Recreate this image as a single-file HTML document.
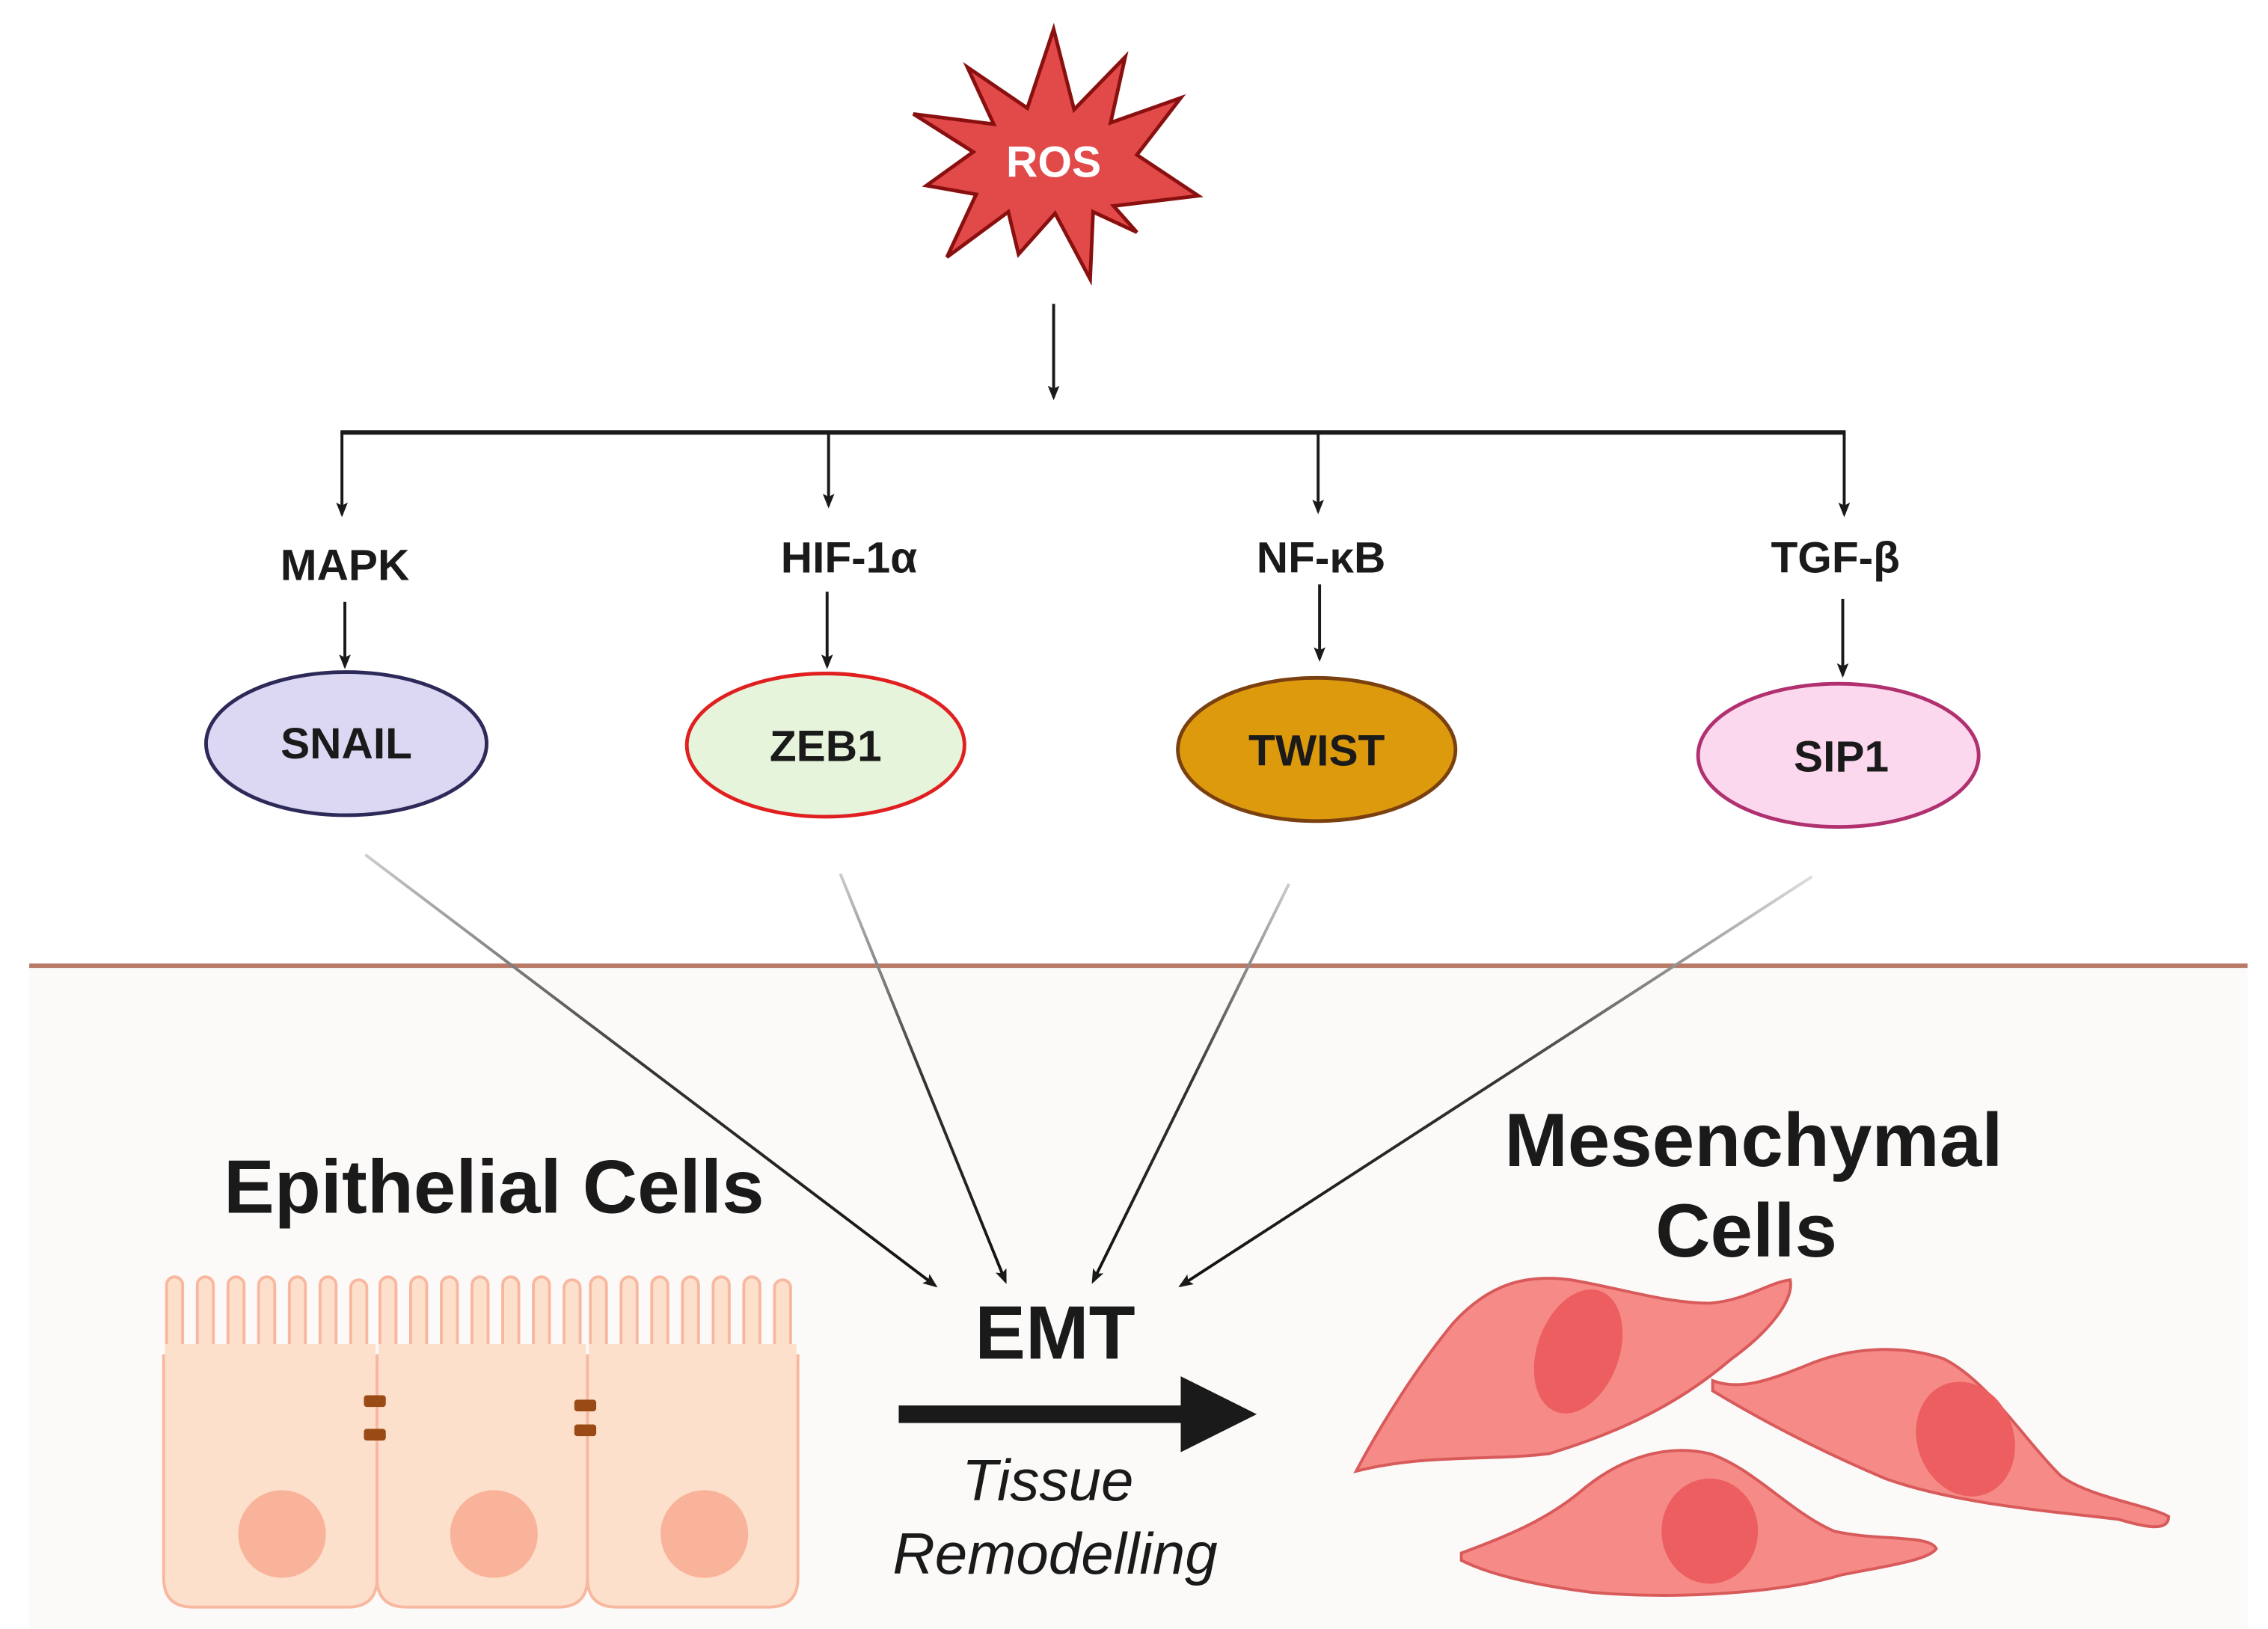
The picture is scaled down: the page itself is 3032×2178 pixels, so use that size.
<!DOCTYPE html>
<html><head><meta charset="utf-8"><style>
html,body{margin:0;padding:0;background:#fff;}
svg{display:block;}
text{font-family:"Liberation Sans",sans-serif;font-weight:bold;fill:#1a1a1a;}
</style></head><body>
<svg width="3032" height="2178" viewBox="0 0 1552 1115" preserveAspectRatio="none" xmlns="http://www.w3.org/2000/svg">
<defs>
<marker id="ah" markerWidth="10" markerHeight="10" refX="8" refY="5" orient="auto" markerUnits="userSpaceOnUse">
<path d="M0,1 L10,5 L0,9 L2,5 Z" fill="#1a1a1a"/></marker>
<linearGradient id="g1" x1="250" y1="585" x2="640" y2="880" gradientUnits="userSpaceOnUse"><stop offset="0" stop-color="#ccc"/><stop offset="0.5" stop-color="#333"/><stop offset="1" stop-color="#111"/></linearGradient>
<linearGradient id="g2" x1="575" y1="598" x2="688" y2="877" gradientUnits="userSpaceOnUse"><stop offset="0" stop-color="#ccc"/><stop offset="0.5" stop-color="#333"/><stop offset="1" stop-color="#111"/></linearGradient>
<linearGradient id="g3" x1="882" y1="605" x2="748" y2="877" gradientUnits="userSpaceOnUse"><stop offset="0" stop-color="#ccc"/><stop offset="0.5" stop-color="#333"/><stop offset="1" stop-color="#111"/></linearGradient>
<linearGradient id="g4" x1="1240" y1="600" x2="808" y2="880" gradientUnits="userSpaceOnUse"><stop offset="0" stop-color="#ddd"/><stop offset="0.5" stop-color="#333"/><stop offset="1" stop-color="#111"/></linearGradient>
</defs>
<rect x="0" y="0" width="1552" height="1115" fill="#fff"/>
<rect x="20" y="661" width="1518" height="454" fill="#fcfaf8"/>
<line x1="20" y1="661" x2="1538" y2="661" stroke="#b87a66" stroke-width="3"/>

<!-- ROS star -->
<polygon points="721,20 735,75 770,39 760,84 808,67 778,106 820,134 762,141 778,159 748,145 746,191 722,146 697,174 690,145 648,176 668,133 634,127 666,104 625,78 680,85 662,46 703,74" fill="#e24a4a" stroke="#8a1010" stroke-width="2.5" stroke-linejoin="miter"/>
<text x="721" y="121" font-size="30" text-anchor="middle" style="fill:#fff">ROS</text>

<g stroke="#1a1a1a" stroke-width="2" fill="none">
<line x1="721" y1="208" x2="721" y2="272" marker-end="url(#ah)"/>
<line x1="233" y1="296" x2="1263" y2="296" stroke-width="3"/>
<line x1="234" y1="296" x2="234" y2="352" marker-end="url(#ah)"/>
<line x1="567" y1="296" x2="567" y2="346" marker-end="url(#ah)"/>
<line x1="902" y1="296" x2="902" y2="350" marker-end="url(#ah)"/>
<line x1="1262" y1="296" x2="1262" y2="352" marker-end="url(#ah)"/>
<line x1="236" y1="412" x2="236" y2="456" marker-end="url(#ah)"/>
<line x1="566" y1="405" x2="566" y2="456" marker-end="url(#ah)"/>
<line x1="903" y1="400" x2="903" y2="451" marker-end="url(#ah)"/>
<line x1="1261" y1="410" x2="1261" y2="462" marker-end="url(#ah)"/>
</g>
<text x="236" y="397" font-size="30" text-anchor="middle">MAPK</text>
<text x="581" y="392" font-size="30" text-anchor="middle">HIF-1α</text>
<text x="904" y="392" font-size="30" text-anchor="middle">NF-κB</text>
<text x="1256" y="392" font-size="30" text-anchor="middle">TGF-β</text>

<ellipse cx="237" cy="509" rx="96" ry="49" fill="#dcd8f3" stroke="#2d2a5a" stroke-width="2.5"/>
<text x="237" y="519" font-size="30" text-anchor="middle">SNAIL</text>
<ellipse cx="565" cy="510" rx="95" ry="49" fill="#e6f4dc" stroke="#e02020" stroke-width="2.5"/>
<text x="565" y="521" font-size="30" text-anchor="middle">ZEB1</text>
<ellipse cx="901" cy="513" rx="95" ry="49" fill="#dd9a0c" stroke="#7a4010" stroke-width="2.5"/>
<text x="901" y="524" font-size="30" text-anchor="middle">TWIST</text>
<ellipse cx="1258" cy="517" rx="96" ry="49" fill="#fcd8ee" stroke="#b03070" stroke-width="2.5"/>
<text x="1260" y="528" font-size="30" text-anchor="middle">SIP1</text>

<line x1="250" y1="585" x2="640" y2="880" stroke="url(#g1)" stroke-width="2" marker-end="url(#ah)"/>
<line x1="575" y1="598" x2="688" y2="877" stroke="url(#g2)" stroke-width="2" marker-end="url(#ah)"/>
<line x1="882" y1="605" x2="748" y2="877" stroke="url(#g3)" stroke-width="2" marker-end="url(#ah)"/>
<line x1="1240" y1="600" x2="808" y2="880" stroke="url(#g4)" stroke-width="2" marker-end="url(#ah)"/>

<text x="722" y="930" font-size="52" text-anchor="middle">EMT</text>
<rect x="615" y="962" width="200" height="12" fill="#1a1a1a"/>
<polygon points="808,942 860,968 808,994" fill="#1a1a1a"/>
<text x="717" y="1027" font-size="40" text-anchor="middle" font-style="italic" style="font-weight:normal">Tissue</text>
<text x="722" y="1077" font-size="40" text-anchor="middle" font-style="italic" style="font-weight:normal">Remodelling</text>

<text x="338" y="830" font-size="52" text-anchor="middle">Epithelial Cells</text>
<text x="1200" y="798" font-size="52" text-anchor="middle">Mesenchymal</text>
<text x="1195" y="860" font-size="52" text-anchor="middle">Cells</text>

<!-- epithelial cells -->
<g fill="#fde0cc" stroke="#f8b8a0" stroke-width="2">
<g id="fing">
<rect x="114" y="874" width="11" height="60" rx="5.5"/><rect x="135" y="874" width="11" height="60" rx="5.5"/><rect x="156" y="874" width="11" height="60" rx="5.5"/><rect x="177" y="874" width="11" height="60" rx="5.5"/><rect x="198" y="874" width="11" height="60" rx="5.5"/><rect x="219" y="874" width="11" height="60" rx="5.5"/><rect x="240" y="876" width="11" height="60" rx="5.5"/>
</g>
<use href="#fing" transform="translate(146,0)"/>
<use href="#fing" transform="translate(290,0)"/>
<path d="M112,928 L112,1080 Q112,1100 132,1100 L238,1100 Q258,1100 258,1080 L258,928 Z"/>
<path d="M258,928 L258,1080 Q258,1100 278,1100 L382,1100 Q402,1100 402,1080 L402,928 Z"/>
<path d="M402,928 L402,1080 Q402,1100 422,1100 L526,1100 Q546,1100 546,1080 L546,928 Z"/>
</g>
<g fill="#fde0cc">
<rect x="113" y="920" width="144" height="14"/><rect x="259" y="920" width="142" height="14"/><rect x="403" y="920" width="142" height="14"/>
</g>
<g fill="#f9b39a">
<ellipse cx="193" cy="1050" rx="30" ry="30"/><ellipse cx="338" cy="1050" rx="30" ry="30"/><ellipse cx="482" cy="1050" rx="30" ry="30"/>
</g>
<g fill="#9a4a14">
<rect x="249" y="955" width="15" height="8" rx="2"/><rect x="249" y="978" width="15" height="8" rx="2"/>
<rect x="393" y="958" width="15" height="8" rx="2"/><rect x="393" y="975" width="15" height="8" rx="2"/>
</g>

<!-- mesenchymal cells -->
<g fill="#f58a86" stroke="#d85a5a" stroke-width="2">
<path d="M928,1007 C945,975 970,935 995,905 C1020,878 1045,872 1075,876 C1110,882 1140,892 1170,892 C1195,890 1210,878 1225,876 C1228,890 1210,912 1185,930 C1150,960 1110,980 1060,995 C1020,1000 975,995 928,1007 Z"/>
<path d="M1172,945 C1190,952 1210,945 1235,935 C1265,922 1300,920 1330,930 C1360,945 1385,985 1410,1010 C1430,1025 1470,1030 1484,1038 C1484,1048 1470,1046 1450,1040 C1410,1035 1340,1030 1290,1012 C1250,995 1210,975 1172,952 Z"/>
<path d="M1000,1063 C1030,1052 1060,1040 1085,1018 C1110,998 1140,988 1170,995 C1200,1005 1225,1035 1255,1048 C1285,1055 1320,1050 1325,1060 C1320,1068 1290,1072 1260,1078 C1220,1090 1150,1095 1090,1090 C1050,1085 1020,1078 1000,1068 Z"/>
</g>
<g fill="#ec5e60">
<ellipse cx="1080" cy="925" rx="28" ry="44" transform="rotate(20 1080 925)"/>
<ellipse cx="1345" cy="985" rx="33" ry="40" transform="rotate(-20 1345 985)"/>
<ellipse cx="1170" cy="1048" rx="33" ry="36"/>
</g>
</svg>
</body></html>
